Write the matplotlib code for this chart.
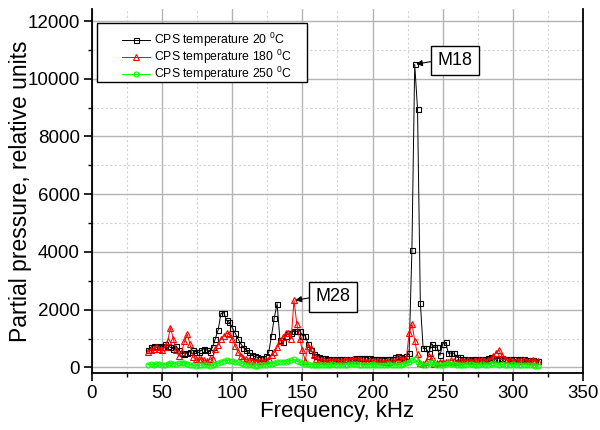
import matplotlib
matplotlib.use('Agg')
import matplotlib.pyplot as plt
import matplotlib.ticker as ticker
from matplotlib.patches import Rectangle

plt.rcParams['font.family'] = ['Liberation Sans', 'DejaVu Sans']
plt.rcParams['mathtext.fontset'] = 'custom'
plt.rcParams['mathtext.rm'] = 'Liberation Sans'

# sweep frequencies, kHz
freq_khz = [
    40, 42, 44, 46, 48, 50, 52, 54, 56, 58, 60, 62, 64, 66, 68, 70, 72, 74, 76, 78,
    80, 82, 84, 86, 88, 90, 92, 94, 96, 98, 100, 102, 104, 106, 108, 110, 112, 114, 116, 118,
    120, 122, 124, 126, 128, 130, 132, 134, 136, 138, 140, 142, 144, 146, 148, 150, 152, 154, 156, 158,
    160, 162, 164, 166, 168, 170, 172, 174, 176, 178, 180, 182, 184, 186, 188, 190, 192, 194, 196, 198,
    200, 202, 204, 206, 208, 210, 212, 214, 216, 218, 220, 222, 224, 226, 228, 230, 232, 234, 236, 238,
    240, 242, 244, 246, 248, 250, 252, 254, 256, 258, 260, 262, 264, 266, 268, 270, 272, 274, 276, 278,
    280, 282, 284, 286, 288, 290, 292, 294, 296, 298, 300, 302, 304, 306, 308, 310, 312, 314, 316, 318,
]

# partial pressure, CPS at 20 C
p_20 = [
    600, 700, 750, 700, 750, 700, 800, 750, 700, 650, 750, 600, 500, 480, 500, 550, 600, 550, 520, 600,
    650, 600, 550, 700, 1000, 1300, 1870, 1900, 1630, 1560, 1380, 1200, 1000, 830, 690, 590, 520, 420, 380, 350,
    340, 330, 380, 520, 1100, 1730, 2210, 950, 870, 1100, 1180, 1210, 1280, 1250, 1280, 1100, 1100, 830, 590, 480,
    400, 350, 330, 320, 310, 300, 310, 300, 300, 290, 280, 290, 300, 310, 320, 330, 340, 330, 340, 320,
    310, 300, 290, 310, 300, 310, 290, 300, 350, 410, 350, 330, 380, 490, 4080, 10500, 8950, 2250, 660, 660,
    490, 830, 700, 700, 415, 830, 870, 490, 500, 490, 350, 350, 300, 280, 300, 260, 280, 300, 310, 280,
    300, 320, 350, 330, 300, 310, 330, 300, 310, 300, 300, 280, 300, 310, 280, 260, 250, 270, 230, 210,
]

# partial pressure, CPS at 180 C
p_180 = [
    550, 600, 650, 700, 650, 600, 700, 900, 1380, 1000, 600, 380, 550, 900, 1150, 800, 350, 300, 280, 300,
    250, 230, 280, 300, 650, 780, 1000, 1100, 1180, 1150, 1000, 760, 550, 400, 320, 280, 260, 240, 220, 230,
    220, 240, 250, 300, 420, 520, 700, 900, 1040, 1180, 1180, 1000, 2320, 1520, 1000, 590, 240, 760, 660, 415,
    300, 260, 250, 240, 230, 240, 250, 240, 230, 240, 250, 260, 270, 280, 270, 260, 250, 240, 240, 230,
    230, 220, 210, 220, 200, 210, 200, 210, 230, 350, 300, 280, 300, 1180, 1520, 930, 450, 150, 120, 200,
    410, 350, 120, 150, 200, 200, 200, 200, 250, 220, 200, 210, 230, 240, 250, 230, 220, 230, 260, 250,
    240, 260, 300, 400, 500, 600, 400, 300, 260, 250, 240, 230, 220, 250, 260, 230, 220, 250, 240, 210,
]

# partial pressure, CPS at 250 C
p_250 = [
    100, 120, 90, 110, 130, 100, 80, 120, 150, 130, 110, 140, 160, 170, 130, 100, 80, 60, 70, 80,
    100, 70, 60, 90, 120, 150, 200, 230, 250, 240, 220, 200, 180, 150, 120, 100, 80, 70, 60, 60,
    70, 80, 90, 110, 130, 150, 180, 200, 180, 200, 230, 250, 280, 220, 180, 150, 120, 110, 100, 90,
    100, 100, 90, 80, 90, 100, 110, 100, 90, 80, 90, 100, 110, 120, 110, 100, 90, 80, 90, 100,
    110, 100, 90, 80, 90, 100, 110, 100, 90, 80, 100, 120, 150, 180, 250, 280, 200, 130, 80, 100,
    150, 180, 130, 100, 90, 100, 120, 140, 130, 120, 100, 90, 80, 100, 120, 110, 100, 90, 100, 110,
    100, 90, 120, 140, 120, 100, 110, 90, 80, 100, 110, 100, 90, 80, 100, 90, 80, 70, 60, 50,
]

series_labels = [
    r'CPS temperature 20 $^\mathregular{0}$C',
    r'CPS temperature 180 $^\mathregular{0}$C',
    r'CPS temperature 250 $^\mathregular{0}$C',
]

fig = plt.figure(figsize=(6.0, 4.3), dpi=100)
ax = fig.add_axes([0.153, 0.132, 0.819, 0.846])

ax.plot(freq_khz, p_20, '-s', color='black', lw=0.7, ms=3.6, mfc='none', mew=0.8,
        label=series_labels[0], zorder=3)
ax.plot(freq_khz, p_180, '-^', color='red', lw=0.7, ms=4.2, mfc='none', mew=0.8,
        label=series_labels[1], zorder=4)
ax.plot(freq_khz, p_250, '-o', color='#00ff00', lw=0.7, ms=3.6, mfc='none', mew=0.8,
        label=series_labels[2], zorder=5)

ax.set_xlim(0, 350)
ax.set_ylim(-200, 12400)
ax.xaxis.set_major_locator(ticker.MultipleLocator(50))
ax.xaxis.set_minor_locator(ticker.MultipleLocator(25))
ax.yaxis.set_major_locator(ticker.MultipleLocator(2000))
ax.yaxis.set_minor_locator(ticker.MultipleLocator(1000))

ax.grid(True, which='major', color='#b4b4b4', lw=1.0, ls='-', zorder=0)
ax.grid(True, which='minor', color='#d4d4d4', lw=0.8, ls=(0, (2, 2)), zorder=0)
ax.set_axisbelow(True)

ax.spines['top'].set_visible(False)
for side in ['left', 'bottom', 'right']:
    ax.spines[side].set_linewidth(1.3)
ax.tick_params(which='major', direction='out', length=6, width=1.2, pad=2.5, labelsize=13.5)
ax.tick_params(which='minor', direction='out', length=3, width=1.0)

ax.set_xlabel('Frequency, kHz', fontsize=16, labelpad=-1)
ax.set_ylabel('Partial pressure, relative units', fontsize=16.5, labelpad=-3)

# legend frame drawn separately so the entries can sit with a wide left margin
ax.add_patch(Rectangle((0.0102, 0.801), 0.428, 0.162, transform=ax.transAxes,
                       fc='white', ec='black', lw=1.0, zorder=7))
leg = ax.legend(loc='upper left', bbox_to_anchor=(0.061, 0.94), borderaxespad=0,
                fontsize=8.8, frameon=False, handlelength=2.3, handletextpad=0.35,
                borderpad=0, labelspacing=-0.12)
leg.set_zorder(8)

# peak labels
box = dict(boxstyle='square,pad=0.35', fc='white', ec='black', lw=1.0)
arrow = dict(arrowstyle='-|>', color='black', lw=0.8, mutation_scale=9,
             shrinkA=0, shrinkB=1, relpos=(0, 0.5))
ax.annotate('M28', xy=(144, 2320), xytext=(172, 2450), fontsize=13,
            ha='center', va='center', bbox=box, arrowprops=arrow, zorder=6)
ax.annotate('M18', xy=(230, 10500), xytext=(258.7, 10630), fontsize=13,
            ha='center', va='center', bbox=box, arrowprops=arrow, zorder=6)

fig.savefig('out.png', dpi=100)
